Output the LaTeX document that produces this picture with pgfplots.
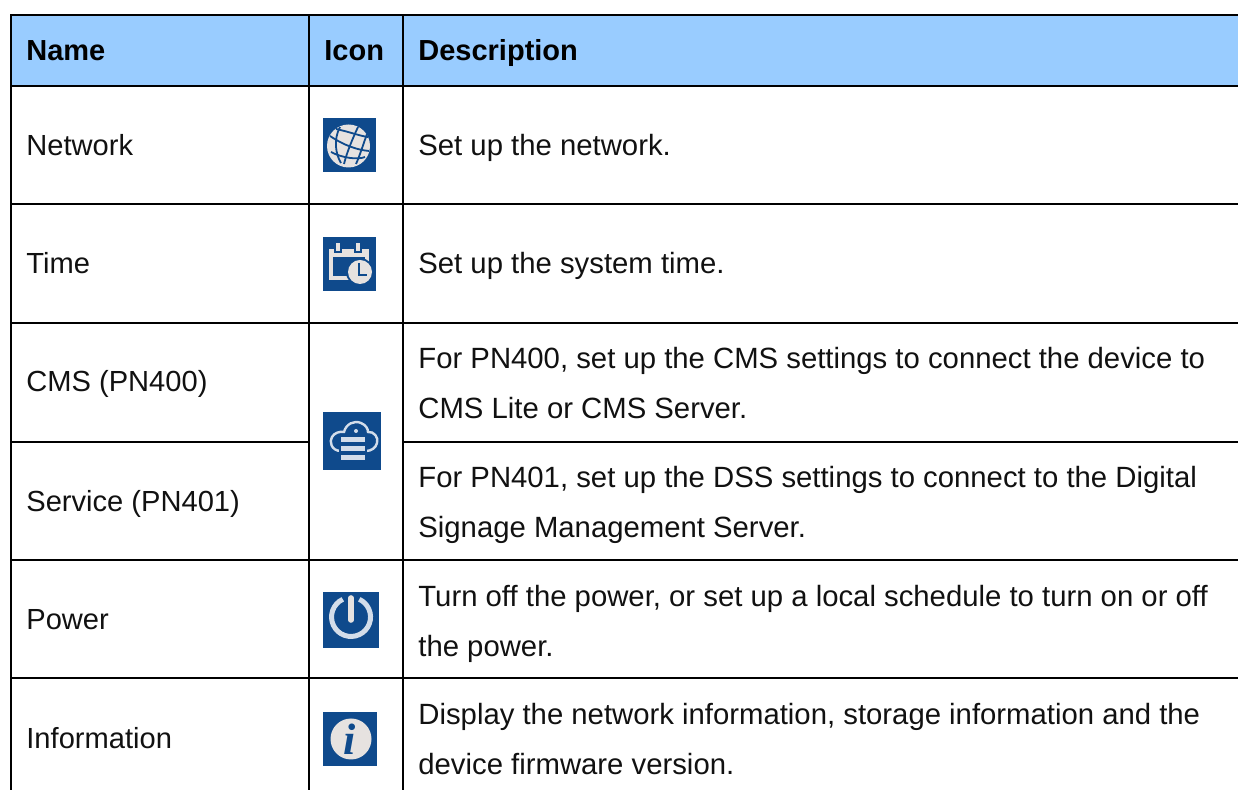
\documentclass[border=0pt]{standalone}
\usepackage{pgfplots}
\pgfplotsset{compat=1.18}
\usepackage{fontspec}
\setmainfont{Liberation Sans}
\newfontfamily\iconserif{Liberation Serif}
\definecolor{hdr}{HTML}{99CCFF}
\definecolor{ibg}{HTML}{0F4A8C}
\definecolor{ilt}{HTML}{E6E2E0}
\definecolor{ilb}{HTML}{D3DDEA}
\definecolor{txt}{HTML}{111111}
\newcommand{\T}[3]{\node[anchor=base west,inner sep=0pt,text=txt,font=\fontsize{14.55}{16}\selectfont] at (axis cs:#1,#2) {#3};}
\newcommand{\D}[3]{\node[anchor=base west,inner sep=0pt,text=txt,font=\fontsize{14.65}{16}\selectfont] at (axis cs:#1,#2) {#3};}
\newcommand{\B}[3]{\node[anchor=base west,inner sep=0pt,text=black,font=\fontsize{14.5}{16}\selectfont\bfseries] at (axis cs:#1,#2) {#3};}
\begin{document}
\begin{tikzpicture}
\path (0,0) rectangle (619pt,395pt);
\begin{axis}[
  at={(0,0)}, anchor=south west,
  scale only axis, width=619pt, height=395pt,
  xmin=0, xmax=1238, ymin=0, ymax=790, y dir=reverse,
  axis lines=none, clip=true, ticks=none,
  rule/.style={black, line width=1pt, forget plot},
]
% header fill
\addplot[fill=hdr, draw=none, forget plot] coordinates {(11,15) (1238,15) (1238,86) (11,86)} --cycle;
% horizontal rules
\addplot[rule] coordinates {(10,15) (1238,15)};
\addplot[rule] coordinates {(10,86) (1238,86)};
\addplot[rule] coordinates {(10,204) (1238,204)};
\addplot[rule] coordinates {(10,323) (1238,323)};
\addplot[rule] coordinates {(10,442) (309,442)};
\addplot[rule] coordinates {(403,442) (1238,442)};
\addplot[rule] coordinates {(10,560) (1238,560)};
\addplot[rule] coordinates {(10,678) (1238,678)};
% vertical rules
\addplot[rule] coordinates {(11,15) (11,790)};
\addplot[rule] coordinates {(309,15) (309,790)};
\addplot[rule] coordinates {(403,15) (403,790)};
% icon backgrounds
\addplot[fill=ibg, draw=none, forget plot] coordinates {(323,118) (376,118) (376,172) (323,172)} --cycle;
\addplot[fill=ibg, draw=none, forget plot] coordinates {(323,237) (376,237) (376,291) (323,291)} --cycle;
\addplot[fill=ibg, draw=none, forget plot] coordinates {(323,412) (381,412) (381,470) (323,470)} --cycle;
\addplot[fill=ibg, draw=none, forget plot] coordinates {(323,592) (379,592) (379,648) (323,648)} --cycle;
\addplot[fill=ibg, draw=none, forget plot] coordinates {(323,712) (377,712) (377,766) (323,766)} --cycle;
% globe
\fill[ilt] (axis cs:348.5,146) circle[radius=21.5];
\begin{scope}[draw=ibg, line width=0.9pt]
\draw (axis cs:330,136) .. controls (axis cs:345,146) and (axis cs:358,150) .. (axis cs:369,151);
\draw (axis cs:331,152) .. controls (axis cs:342,158) and (axis cs:358,160) .. (axis cs:365,157);
\draw (axis cs:336,129) .. controls (axis cs:350,132) and (axis cs:360,136) .. (axis cs:368,137);
\draw (axis cs:340,127) .. controls (axis cs:333,140) and (axis cs:336,155) .. (axis cs:341,163);
\draw (axis cs:358,127) .. controls (axis cs:352,140) and (axis cs:347,152) .. (axis cs:344,164);
\draw (axis cs:367,134) .. controls (axis cs:363,145) and (axis cs:360,155) .. (axis cs:356,164);
\end{scope}
% calendar
\fill[ilt] (axis cs:329,249) rectangle (axis cs:369,257);
\fill[ilt] (axis cs:329,257) rectangle (axis cs:333,280);
\fill[ilt] (axis cs:329,276) rectangle (axis cs:350,280);
\fill[ilt] (axis cs:365,257) rectangle (axis cs:369,264);
\fill[ibg] (axis cs:334,246) rectangle (axis cs:342,253);
\fill[ibg] (axis cs:354,246) rectangle (axis cs:362,253);
\fill[ilt] (axis cs:336,243) rectangle (axis cs:340,251);
\fill[ilt] (axis cs:356,243) rectangle (axis cs:360,251);
\fill[ibg] (axis cs:360,272) circle[radius=14];
\fill[ilt] (axis cs:360,272) circle[radius=12];
\draw[ibg, line width=1.1pt] (axis cs:359,263) -- (axis cs:359,275) -- (axis cs:367,275);
% cloud + server
\draw[ilb, line width=1.2pt]
  (axis cs:341,451) .. controls (axis cs:331,451) and (axis cs:329,441) .. (axis cs:332,437)
  .. controls (axis cs:334,433) and (axis cs:340,431) .. (axis cs:344,432)
  .. controls (axis cs:346,424) and (axis cs:354,420) .. (axis cs:361,423)
  .. controls (axis cs:366,425) and (axis cs:368,429) .. (axis cs:368,432)
  .. controls (axis cs:374,431) and (axis cs:379,438) .. (axis cs:377,443)
  .. controls (axis cs:376,448) and (axis cs:371,451) .. (axis cs:366,451);
\fill[ibg] (axis cs:339,436) rectangle (axis cs:367,462);
\fill[ilb] (axis cs:341,437) rectangle (axis cs:365,442);
\fill[ilb] (axis cs:341,446) rectangle (axis cs:365,451);
\fill[ilb] (axis cs:341,455) rectangle (axis cs:365,460);
\fill[ilb] (axis cs:356,431) circle[radius=2];
% power
\draw[ilb, line width=2.5pt] (axis cs:342.8,599.3) arc[start angle=-115, end angle=-425, radius=19.5];
\draw[ilt, line width=2.8pt, line cap=round] (axis cs:351,598) -- (axis cs:351,620);
% info
\fill[ilt] (axis cs:351,739) circle[radius=20.5];
\node[anchor=center, inner sep=0pt, text=ibg, font=\iconserif\fontsize{22}{24}\selectfont\bfseries\itshape] at (axis cs:350,739) {i};
% header text
\B{26}{61}{Name}
\B{324}{61}{Icon}
\B{418}{61}{Description}
% first column
\T{26}{156}{Network}
\T{26}{274}{Time}
\T{26}{392}{CMS (PN400)}
\T{26}{512}{Service (PN401)}
\T{26}{630}{Power}
\T{26}{749}{Information}
% descriptions
\D{418}{156}{Set up the network.}
\D{418}{274}{Set up the system time.}
\D{418}{369}{For PN400, set up the CMS settings to connect the device to}
\D{418}{419}{CMS Lite or CMS Server.}
\D{418}{488}{For PN401, set up the DSS settings to connect to the Digital}
\D{418}{538}{Signage Management Server.}
\D{418}{607}{Turn off the power, or set up a local schedule to turn on or off}
\D{418}{657}{the power.}
\D{418}{725}{Display the network information, storage information and the}
\D{418}{775}{device firmware version.}
\end{axis}
\end{tikzpicture}
\end{document}
